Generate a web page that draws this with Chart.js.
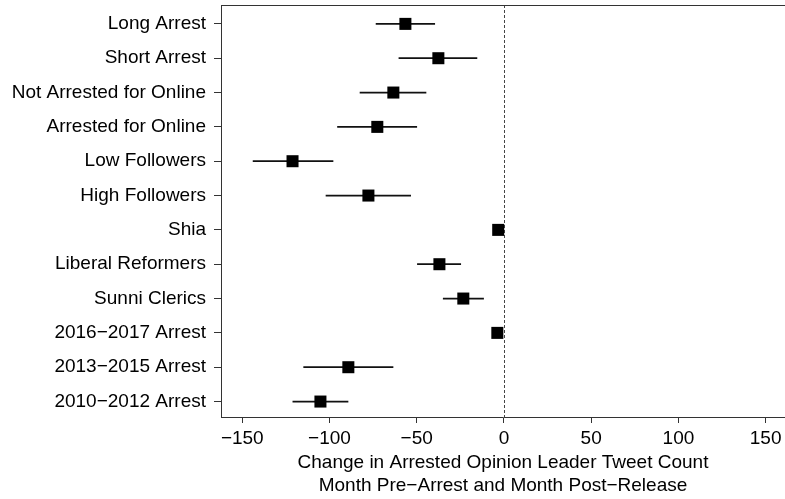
<!DOCTYPE html>
<html>
<head>
<meta charset="utf-8">
<script src="https://cdn.jsdelivr.net/npm/chart.js@4/dist/chart.umd.min.js"></script>
<style>html,body{margin:0;padding:0;background:#fff}</style>
</head>
<body>
<canvas id="c" width="785" height="499"></canvas>
<script>
// Subgroups, listed top to bottom
const groups = [
  "Long Arrest", "Short Arrest", "Not Arrested for Online", "Arrested for Online",
  "Low Followers", "High Followers", "Shia", "Liberal Reformers", "Sunni Clerics",
  "2016\u22122017 Arrest", "2013\u22122015 Arrest", "2010\u22122012 Arrest"
];
// Point estimates and interval bounds (change in tweet count)
const estimates = [-56.5, -37.6, -63.4, -72.6, -121.2, -77.7, -3.3, -37.0, -23.3, -3.8, -89.2, -105.2];
const lower     = [-73.5, -60.4, -82.7, -95.6, -144.0, -102.2, -4.0, -49.8, -35.0, -4.5, -115.0, -121.2];
const upper     = [-39.5, -15.3, -44.5, -49.8, -97.8, -53.3, -2.6, -24.6, -11.5, -3.1, -63.4, -89.2];
const xTicks = [-150, -100, -50, 0, 50, 100, 150];

const FONT = "'Liberation Sans', Arial, Helvetica, sans-serif";
const rowValue = i => groups.length - i;

function noEdgePadding(s) {
  s.paddingTop = 0; s.paddingBottom = 0; s.paddingLeft = 0; s.paddingRight = 0;
}

// Zero reference line, confidence intervals and top frame edge
const intervals = {
  id: 'intervals',
  beforeDatasetsDraw(chart) {
    const { ctx, chartArea: a, scales: { x, y } } = chart;
    ctx.save();
    ctx.strokeStyle = '#444';
    ctx.lineWidth = 1;
    ctx.setLineDash([3, 2]);
    const x0 = Math.round(x.getPixelForValue(0)) + 0.5;
    ctx.beginPath();
    ctx.moveTo(x0, a.top);
    ctx.lineTo(x0, a.bottom);
    ctx.stroke();
    ctx.setLineDash([]);

    ctx.strokeStyle = '#111';
    ctx.lineWidth = 1.8;
    groups.forEach((g, i) => {
      const yy = y.getPixelForValue(rowValue(i));
      ctx.beginPath();
      ctx.moveTo(x.getPixelForValue(lower[i]), yy);
      ctx.lineTo(x.getPixelForValue(upper[i]), yy);
      ctx.stroke();
    });

    ctx.strokeStyle = '#333';
    ctx.lineWidth = 1;
    ctx.beginPath();
    ctx.moveTo(a.left, a.top + 0.5);
    ctx.lineTo(a.right, a.top + 0.5);
    ctx.stroke();
    ctx.restore();
  }
};

new Chart(document.getElementById('c'), {
  type: 'scatter',
  data: {
    datasets: [{
      data: estimates.map((v, i) => ({ x: v, y: rowValue(i) })),
      pointStyle: 'rect',
      pointRadius: 8.5,
      pointHoverRadius: 8.5,
      backgroundColor: '#000',
      borderColor: '#000',
      borderWidth: 0
    }]
  },
  options: {
    responsive: false,
    animation: false,
    events: [],
    layout: { autoPadding: false, padding: { top: 5, right: 0, bottom: 0, left: 0 } },
    plugins: { legend: { display: false }, tooltip: { enabled: false } },
    scales: {
      x: {
        type: 'linear',
        min: -162.2,
        max: 161.1,
        afterBuildTicks(s) { s.ticks = xTicks.map(v => ({ value: v })); },
        ticks: {
          callback: v => String(v).replace('-', '\u2212'),
          color: '#000',
          font: { family: FONT, size: 19 },
          padding: 4,
          maxRotation: 0,
          autoSkip: false
        },
        grid: { display: true, drawOnChartArea: false, drawTicks: true, tickLength: 6, color: '#333' },
        border: { display: true, color: '#333', width: 1 },
        title: {
          display: true,
          text: ['Change in Arrested Opinion Leader Tweet Count', 'Month Pre\u2212Arrest and Month Post\u2212Release'],
          color: '#000',
          font: { family: FONT, size: 19, lineHeight: 1.21 },
          padding: { top: 0, bottom: 2 }
        },
        afterFit(s) { s.height = 82; noEdgePadding(s); }
      },
      y: {
        type: 'linear',
        min: 0.55,
        max: 12.55,
        afterBuildTicks(s) { s.ticks = groups.map((g, i) => ({ value: rowValue(i) })); },
        ticks: {
          callback: v => groups[groups.length - v],
          color: '#000',
          font: { family: FONT, size: 19 },
          padding: 8,
          autoSkip: false
        },
        grid: { display: true, drawOnChartArea: false, drawTicks: true, tickLength: 7, color: '#333' },
        border: { display: true, color: '#333', width: 1 },
        afterFit(s) { s.width = 221; noEdgePadding(s); }
      }
    }
  },
  plugins: [intervals]
});
</script>
</body>
</html>
